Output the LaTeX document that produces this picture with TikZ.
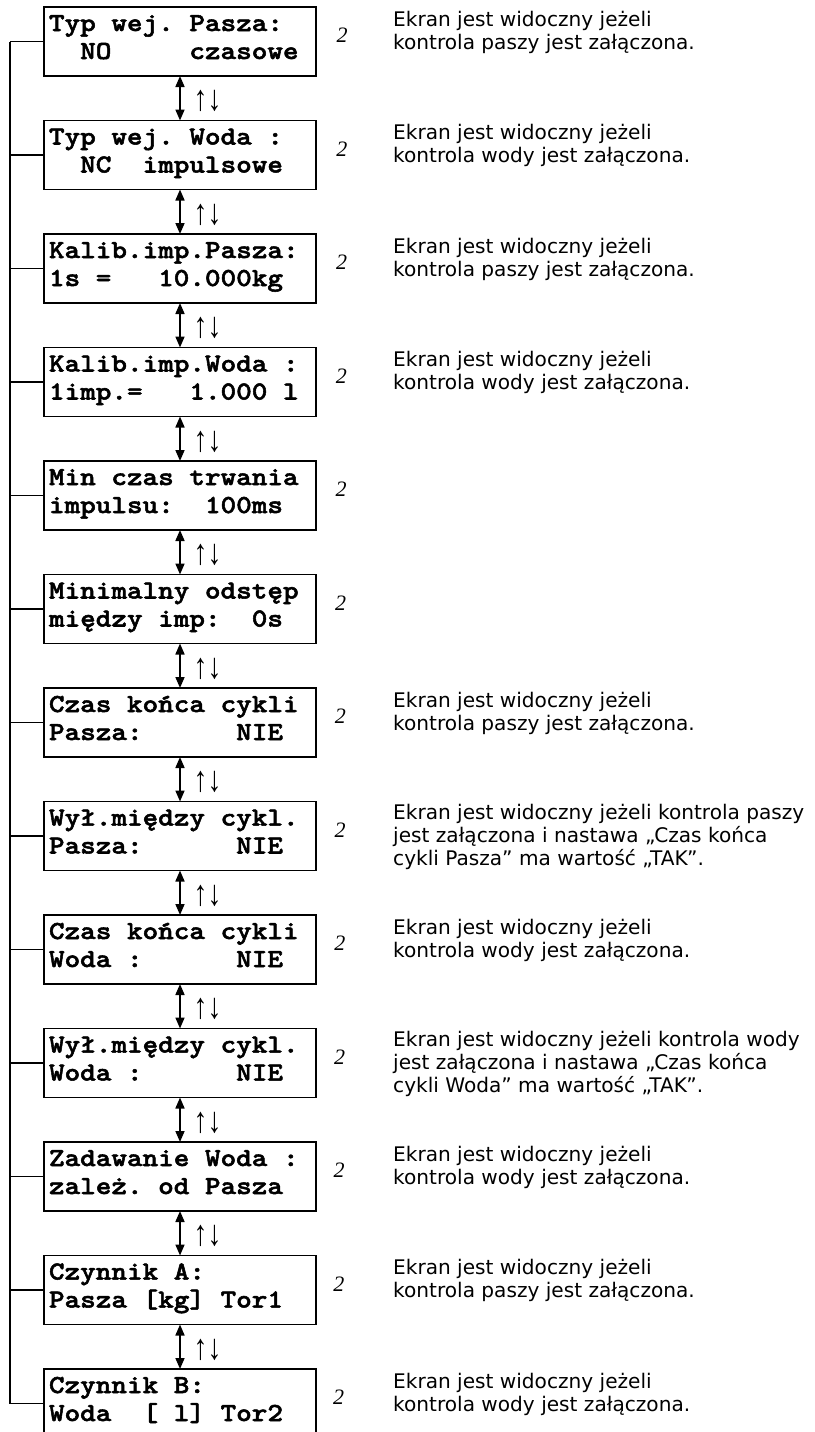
\documentclass[tikz,border=0pt]{standalone}
\usepackage{fontspec}
\usetikzlibrary{arrows.meta}
\newfontfamily\lcdfont{lmmonolt10-bold.otf}[FakeStretch=1.143,FakeBold=2]
\newfontfamily\descfont{DejaVu Sans}
\newfontfamily\numfont{Liberation Serif}
\newcommand\lcdspaces{\frenchspacing\spaceskip=15.6pt\relax\xspaceskip=15.6pt\relax}
\tikzset{
  lcd/.style={draw, line width=1.7pt, rectangle, outer sep=0pt,
    minimum width=272pt, minimum height=69pt, text width=262pt,
    inner xsep=5pt, inner ysep=0pt, align=left, anchor=north west,
    font=\lcdfont\fontsize{26}{28}\selectfont,
    execute at begin node={\lcdspaces\rule{0pt}{22pt}},
    execute at end node={\rule[-15pt]{0pt}{15pt}}},
  desc/.style={anchor=north west, inner sep=0pt, align=left,
    font=\descfont\fontsize{20.1}{23}\selectfont,
    execute at begin node={\rule{0pt}{18pt}}},
  num/.style={inner sep=0pt, font=\numfont\itshape\fontsize{22}{24}\selectfont},
  dbl/.style={line width=1.7pt, {Triangle[length=11pt,width=9pt]}-{Triangle[length=11pt,width=9pt]}},
  updn/.style={anchor=center, xshift=27.5pt, yshift=-3pt, inner sep=0pt, font=\numfont\fontsize{36}{38}\selectfont},
  bus/.style={line width=1.3pt}
}
\begin{document}
\begin{tikzpicture}[x=1pt,y=-1pt]
\useasboundingbox (0,0) rectangle (814,1432);
% boxes
\node[lcd] (b1)  at (44,7)      {Typ wej. Pasza:\\~~NO~~~~~czasowe};
\node[lcd] (b2)  at (44,120.5)  {Typ wej. Woda :\\~~NC~~impulsowe};
\node[lcd] (b3)  at (44,234)    {Kalib.imp.Pasza:\\1s =~~~10.000kg};
\node[lcd] (b4)  at (44,347.5)  {Kalib.imp.Woda :\\1imp.=~~~1.000 l};
\node[lcd] (b5)  at (44,461)    {Min czas trwania\\impulsu:~~100ms};
\node[lcd] (b6)  at (44,574.5)  {Minimalny odstęp\\między imp:~~0s};
\node[lcd] (b7)  at (44,688)    {Czas końca cykli\\Pasza:~~~~~~NIE};
\node[lcd] (b8)  at (44,801.5)  {Wył.między cykl.\\Pasza:~~~~~~NIE};
\node[lcd] (b9)  at (44,915)    {Czas końca cykli\\Woda :~~~~~~NIE};
\node[lcd] (b10) at (44,1028.5) {Wył.między cykl.\\Woda :~~~~~~NIE};
\node[lcd] (b11) at (44,1142)   {Zadawanie Woda :\\zależ. od Pasza};
\node[lcd] (b12) at (44,1255.5) {Czynnik A:\\Pasza [kg] Tor1};
\node[lcd] (b13) at (44,1369)   {Czynnik B:\\Woda~~[ l] Tor2};
% left bus
\coordinate (bus) at (10,0);
\draw[bus] (b1.west -| bus) -- (b13.west -| bus);
\foreach \i in {1,...,13} {
  \draw[bus] (b\i.west) -- (b\i.west -| bus);
}
% arrows
\foreach \i [evaluate=\i as \j using int(\i+1)] in {1,...,12} {
  \draw[dbl] (b\i.south) -- node[updn] {\scalebox{0.77}[1]{↑↓}} (b\j.north);
}
% numbers
\foreach \i in {1,...,13} {
  \node[num] (n\i) at ([shift={(162.5-0.3*\i,-6)}]b\i.center) {2};
}
% descriptions
\node[desc] (d1)  at (393,7+4)      {Ekran jest widoczny jeżeli\\kontrola paszy jest załączona.};
\node[desc] (d2)  at (393,120.5+4)  {Ekran jest widoczny jeżeli\\kontrola wody jest załączona.};
\node[desc] (d3)  at (393,234+4)    {Ekran jest widoczny jeżeli\\kontrola paszy jest załączona.};
\node[desc] (d4)  at (393,347.5+4)  {Ekran jest widoczny jeżeli\\kontrola wody jest załączona.};
\node[desc] (d7)  at (393,688+4)    {Ekran jest widoczny jeżeli\\kontrola paszy jest załączona.};
\node[desc] (d8)  at (393,801.5+2.5){Ekran jest widoczny jeżeli kontrola paszy\\jest załączona i nastawa „Czas końca\\cykli Pasza” ma wartość „TAK”.};
\node[desc] (d9)  at (393,915+4)    {Ekran jest widoczny jeżeli\\kontrola wody jest załączona.};
\node[desc] (d10) at (393,1028.5+2.5){Ekran jest widoczny jeżeli kontrola wody\\jest załączona i nastawa „Czas końca\\cykli Woda” ma wartość „TAK”.};
\node[desc] (d11) at (393,1142+4)   {Ekran jest widoczny jeżeli\\kontrola wody jest załączona.};
\node[desc] (d12) at (393,1255.5+4) {Ekran jest widoczny jeżeli\\kontrola paszy jest załączona.};
\node[desc] (d13) at (393,1369+4)   {Ekran jest widoczny jeżeli\\kontrola wody jest załączona.};
\end{tikzpicture}
\end{document}
